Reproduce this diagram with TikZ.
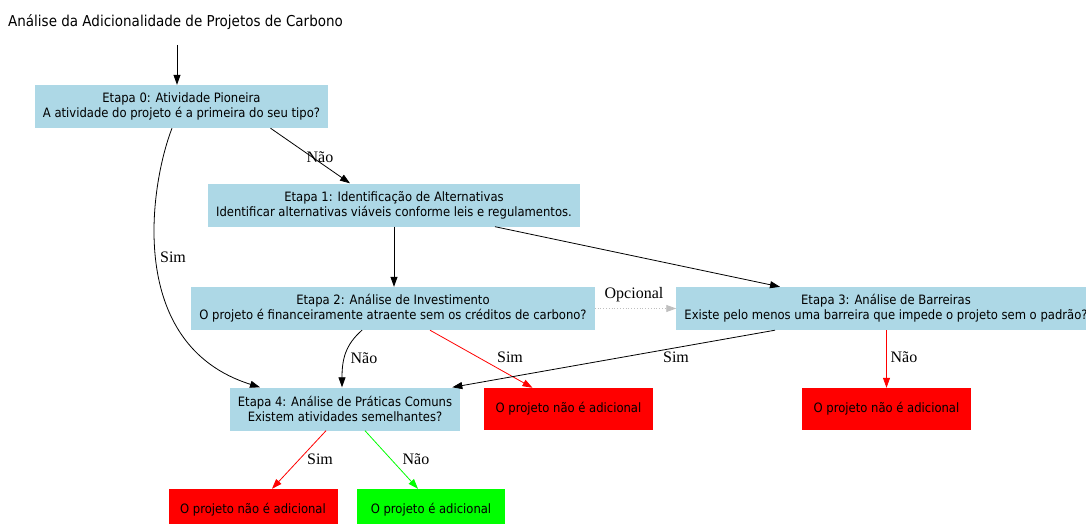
\documentclass[tikz,border=0pt]{standalone}
\usepackage{fontspec}
\setmainfont{DejaVu Sans Condensed}
\newfontfamily\rotulofont{Liberation Serif}
\usetikzlibrary{arrows.meta}
\definecolor{azulclaro}{RGB}{173,216,230}
\definecolor{verde}{RGB}{0,255,0}
\begin{document}
\begin{tikzpicture}[x=1pt, y=-1pt,
	etapa/.style={fill=azulclaro, align=center, minimum height=43pt, inner xsep=8pt, inner ysep=0pt, font=\fontsize{12.9}{15}\selectfont},
	naoadic/.style={fill=red, minimum width=169pt, minimum height=42pt, font=\fontsize{12.9}{15}\selectfont},
	adic/.style={fill=verde, minimum width=148pt, minimum height=42pt, font=\fontsize{12.9}{15}\selectfont},
	rotulo/.style={font=\rotulofont\fontsize{16}{18}\selectfont, inner sep=0pt},
	seta/.style={-{Triangle[length=10pt,width=7pt]}, line width=0.8pt}]
	\useasboundingbox (0,0) rectangle (1086,524);
	% titulo e etapas
	\node [anchor=west, inner sep=0pt, font=\fontsize{15}{17}\selectfont] (titulo) at (8,22) {Análise da Adicionalidade de Projetos de Carbono};
	\coordinate (inicio) at (177,45);
	\node [etapa] (e0) at (181.5,106.5) {Etapa 0: Atividade Pioneira\\A atividade do projeto é a primeira do seu tipo?};
	\node [etapa] (e1) at (394,205) {Etapa 1: Identificação de Alternativas\\Identificar alternativas viáveis conforme leis e regulamentos.};
	\node [etapa] (e2) at (393,308.5) {Etapa 2: Análise de Investimento\\O projeto é financeiramente atraente sem os créditos de carbono?};
	\node [etapa] (e3) at (886,308.5) {Etapa 3: Análise de Barreiras\\Existe pelo menos uma barreira que impede o projeto sem o padrão?};
	\node [etapa] (e4) at (345,409) {Etapa 4: Análise de Práticas Comuns\\Existem atividades semelhantes?};
	% resultados
	\node [naoadic] (r2) at (568.5,409) {O projeto não é adicional};
	\node [naoadic] (r3) at (886.5,409) {O projeto não é adicional};
	\node [naoadic] (r4) at (253,510) {O projeto não é adicional};
	\node [adic] (ok) at (431,510) {O projeto é adicional};
	% setas
	\draw [seta] (inicio) -- (inicio |- e0.north);
	\draw [seta] ([xshift=89pt]e0.south) -- ([xshift=-44pt]e1.north);
	\draw [seta] ([xshift=-9.5pt]e0.south) .. controls (150,185) and (125,345) .. ([xshift=-85pt]e4.north);
	\draw [seta] (e1.south) -- (e1.south |- e2.north);
	\draw [seta] ([xshift=101pt]e1.south) -- ([xshift=-106pt]e3.north);
	\draw [seta, lightgray, dotted] (e2.east) -- (e3.west);
	\draw [seta] ([xshift=-31pt]e2.south) .. controls (345,345) and (342,360) .. ([xshift=-3pt]e4.north);
	\draw [seta, red] ([xshift=37pt]e2.south) -- ([xshift=-36pt]r2.north);
	\draw [seta] ([xshift=-111pt]e3.south) -- ([xshift=-8pt]e4.north east);
	\draw [seta, red] (e3.south -| r3) -- (r3.north);
	\draw [seta, red] ([xshift=-19pt]e4.south) -- ([xshift=19pt]r4.north);
	\draw [seta, verde] ([xshift=20pt]e4.south) -- ([xshift=-13pt]ok.north);
	% rotulos
	\node [rotulo] (l01) at (320,157) {Não};
	\node [rotulo] (l04) at (173,257) {Sim};
	\node [rotulo] (l23) at (634,295) {Opcional};
	\node [rotulo] (l24) at (364,358) {Não};
	\node [rotulo] (l2r) at (510,357) {Sim};
	\node [rotulo] (l34) at (676,357) {Sim};
	\node [rotulo] (l3r) at (904,357) {Não};
	\node [rotulo] (l4r) at (320,459) {Sim};
	\node [rotulo] (l4ok) at (416,459) {Não};
\end{tikzpicture}
\end{document}
